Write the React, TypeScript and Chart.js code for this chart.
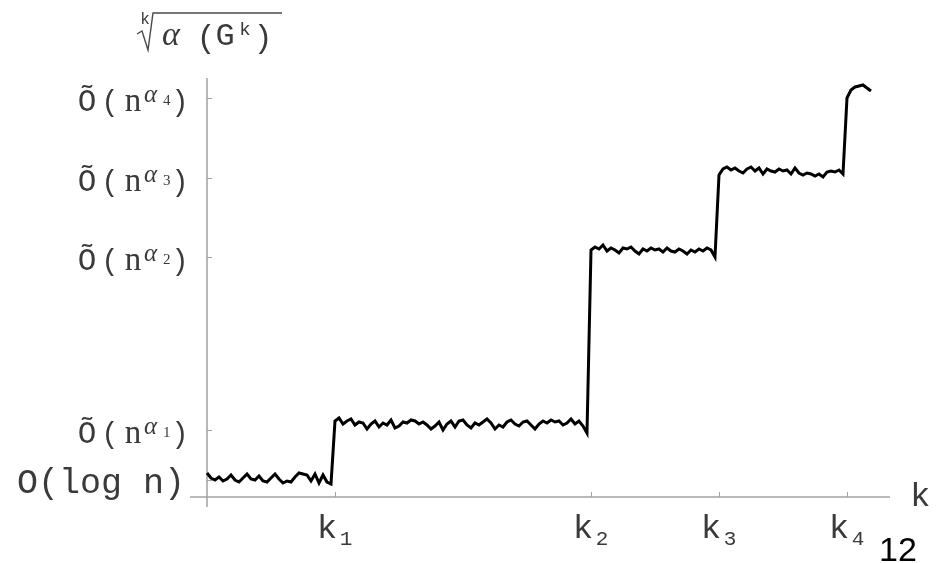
import { useEffect, useRef } from "react";
import { Chart, registerables } from "chart.js";

Chart.register(...registerables);

// samples per unit of k (the curve is sampled evenly along k)
const SAMPLES_PER_K = 32;

// plateau values of the k-th root of alpha(G^k)
const plateau0 = [2.4, 1.9, 1.7, 2.0, 1.6, 1.8, 2.2, 1.7, 1.5, 1.9, 2.3, 1.8, 1.7, 2.1, 1.6, 1.5, 1.9, 2.3, 1.8, 1.4, 1.6, 1.5, 2.0, 2.4, 2.3, 2.2, 1.6, 2.3, 1.4, 2.2, 1.5, 1.3];
const plateau1 = [7.6, 7.9, 7.3, 7.6, 7.8, 7.2, 7.5, 7.4, 6.8, 7.3, 7.6, 7.0, 7.4, 7.2, 7.7, 6.9, 7.1, 7.5, 7.4, 7.7, 7.6, 7.3, 7.5, 7.2, 6.8, 7.1, 7.5, 6.7, 7.3, 7.6, 7.0, 7.6, 7.7, 7.2, 6.9, 7.4, 7.2, 7.5, 7.8, 7.4, 6.8, 7.2, 7.0, 7.5, 7.7, 7.3, 7.1, 7.5, 7.6, 7.2, 6.8, 7.3, 7.6, 7.4, 7.7, 7.5, 7.6, 7.2, 7.4, 7.8, 7.3, 7.6, 7.1, 6.4];
const plateau2 = [24.7, 25.0, 24.8, 25.2, 24.6, 24.9, 24.7, 24.4, 24.9, 24.8, 25.0, 24.6, 24.3, 24.8, 24.6, 24.9, 24.7, 24.8, 24.5, 24.9, 24.6, 24.5, 24.8, 24.6, 24.3, 24.7, 24.5, 24.8, 24.6, 24.9, 24.7, 24.0];
const plateau3 = [32.2, 32.8, 33.0, 32.7, 32.9, 32.6, 32.4, 32.8, 33.0, 32.6, 32.9, 32.3, 32.8, 32.6, 32.5, 32.8, 32.6, 32.7, 32.3, 32.9, 32.4, 32.2, 32.4, 32.3, 32.1, 32.3, 32.0, 32.5, 32.6, 32.5, 32.7, 32.3];
const plateau4 = [39.9, 40.7, 41.0, 41.1, 41.2, 40.9, 40.6];

// axes
const X_MIN = 0;
const X_MAX = 5.336;
const Y_MIN = 0;
const Y_MAX = 41.9;

const xTickValues = [1, 3, 4, 5];
const xTickSubs = ["1", "2", "3", "4"];

const yTickValues = [1.7, 6.7, 24.0, 31.9, 39.9];
const yTickSubs = ["", "1", "2", "3", "4"];
const yLogLabel = "O(log n)";

const TEXT = "#3a3a3a";
const AXIS = "#a3a3a3";
const MONO = "'Liberation Mono', monospace";
const SERIF = "'Liberation Serif', serif";

function buildPoints() {
  const all = [...plateau0, ...plateau1, ...plateau2, ...plateau3, ...plateau4];
  return all.map((y, i) => ({ x: i / SAMPLES_PER_K, y }));
}

function txt(ctx: CanvasRenderingContext2D, s: string, font: string, x: number, y: number, align: CanvasTextAlign, color = TEXT) {
  ctx.font = font;
  ctx.textAlign = align;
  ctx.textBaseline = "alphabetic";
  ctx.fillStyle = color;
  ctx.fillText(s, x, y);
}

const axesPlugin = {
  id: "mathAxes",
  beforeDatasetsDraw(chart: any) {
    const ctx: CanvasRenderingContext2D = chart.ctx;
    const xs = chart.scales.x;
    const ys = chart.scales.y;
    const x0 = xs.getPixelForValue(0);
    const y0 = ys.getPixelForValue(0);
    ctx.save();
    ctx.strokeStyle = AXIS;
    ctx.lineWidth = 1.5;
    ctx.beginPath();
    ctx.moveTo(x0 - 17, y0);
    ctx.lineTo(xs.right, y0);
    ctx.moveTo(x0, ys.top);
    ctx.lineTo(x0, y0 + 10);
    ctx.stroke();
    ctx.lineWidth = 1;
    ctx.beginPath();
    xTickValues.forEach((v) => {
      const px = Math.round(xs.getPixelForValue(v)) + 0.5;
      ctx.moveTo(px, y0);
      ctx.lineTo(px, y0 - 5);
    });
    yTickValues.forEach((v) => {
      const py = Math.round(ys.getPixelForValue(v)) + 0.5;
      ctx.moveTo(x0, py);
      ctx.lineTo(x0 + 5, py);
    });
    ctx.stroke();
    ctx.restore();
  },
  afterDraw(chart: any) {
    const ctx: CanvasRenderingContext2D = chart.ctx;
    const xs = chart.scales.x;
    const ys = chart.scales.y;
    const x0 = xs.getPixelForValue(0);
    const y0 = ys.getPixelForValue(0);
    ctx.save();
    // x tick labels k_i
    xTickValues.forEach((v, i) => {
      const px = xs.getPixelForValue(v);
      txt(ctx, "k", `34px ${MONO}`, px - 8, y0 + 41, "center");
      txt(ctx, xTickSubs[i], `21px ${MONO}`, px + 11, y0 + 48, "center");
    });
    // y tick labels
    const R = x0 - 22;
    yTickValues.forEach((v, i) => {
      const py = ys.getPixelForValue(v);
      if (!yTickSubs[i]) {
        txt(ctx, yLogLabel, `35px ${MONO}`, R, py + 13, "right");
        return;
      }
      txt(ctx, "\u00d5", `31px ${MONO}`, R - 98, py + 13, "center");
      txt(ctx, "(", `29px ${MONO}`, R - 75, py + 13, "center");
      txt(ctx, "n", `33px ${SERIF}`, R - 52, py + 13, "center");
      txt(ctx, "\u03b1", `italic 25px ${SERIF}`, R - 41, py + 4, "left");
      txt(ctx, yTickSubs[i], `15px ${SERIF}`, R - 22, py + 7, "left");
      txt(ctx, ")", `29px ${MONO}`, R - 5, py + 13, "center");
    });
    // axis label k
    txt(ctx, "k", `34px ${MONO}`, xs.right + 20, y0 + 9, "left");
    // y axis title: k-th root of alpha(G^k)
    ctx.strokeStyle = "#4a4a4a";
    ctx.lineWidth = 1.4;
    ctx.beginPath();
    ctx.moveTo(137, 34);
    ctx.lineTo(142, 31);
    ctx.lineTo(148, 50);
    ctx.lineTo(153, 13);
    ctx.lineTo(282, 13);
    ctx.stroke();
    txt(ctx, "k", `16px ${MONO}`, 145, 24, "center");
    txt(ctx, "\u03b1", `italic 34px ${SERIF}`, 162, 45, "left");
    txt(ctx, "(", `32px ${MONO}`, 206, 47, "center");
    txt(ctx, "G", `32px ${MONO}`, 225, 45, "center");
    txt(ctx, "k", `19px ${MONO}`, 245, 35, "center");
    txt(ctx, ")", `32px ${MONO}`, 263, 47, "center");
    // page number
    txt(ctx, "12", `34px 'Liberation Sans', Arial, sans-serif`, 879, 561, "left", "#000");
    ctx.restore();
  },
};

export default function App() {
  const ref = useRef<HTMLCanvasElement | null>(null);
  useEffect(() => {
    if (!ref.current) return;
    const chart = new Chart(ref.current, {
      type: "line",
      data: {
        datasets: [
          {
            data: buildPoints(),
            borderColor: "#000",
            borderWidth: 3,
            pointRadius: 0,
            tension: 0,
            fill: false,
            clip: false as any,
          },
        ],
      },
      options: {
        responsive: false,
        maintainAspectRatio: false,
        animation: false,
        layout: { padding: { left: 207, right: 51, top: 78, bottom: 66 } },
        scales: {
          x: { type: "linear", min: X_MIN, max: X_MAX, display: false },
          y: { type: "linear", min: Y_MIN, max: Y_MAX, display: false },
        },
        plugins: { legend: { display: false }, tooltip: { enabled: false } },
      },
      plugins: [axesPlugin],
    });
    return () => chart.destroy();
  }, []);
  return (
    <div style={{ position: "absolute", left: 0, top: 0, width: 941, height: 563, background: "#fff" }}>
      <canvas ref={ref} width={941} height={563} style={{ width: 941, height: 563 }} />
    </div>
  );
}
